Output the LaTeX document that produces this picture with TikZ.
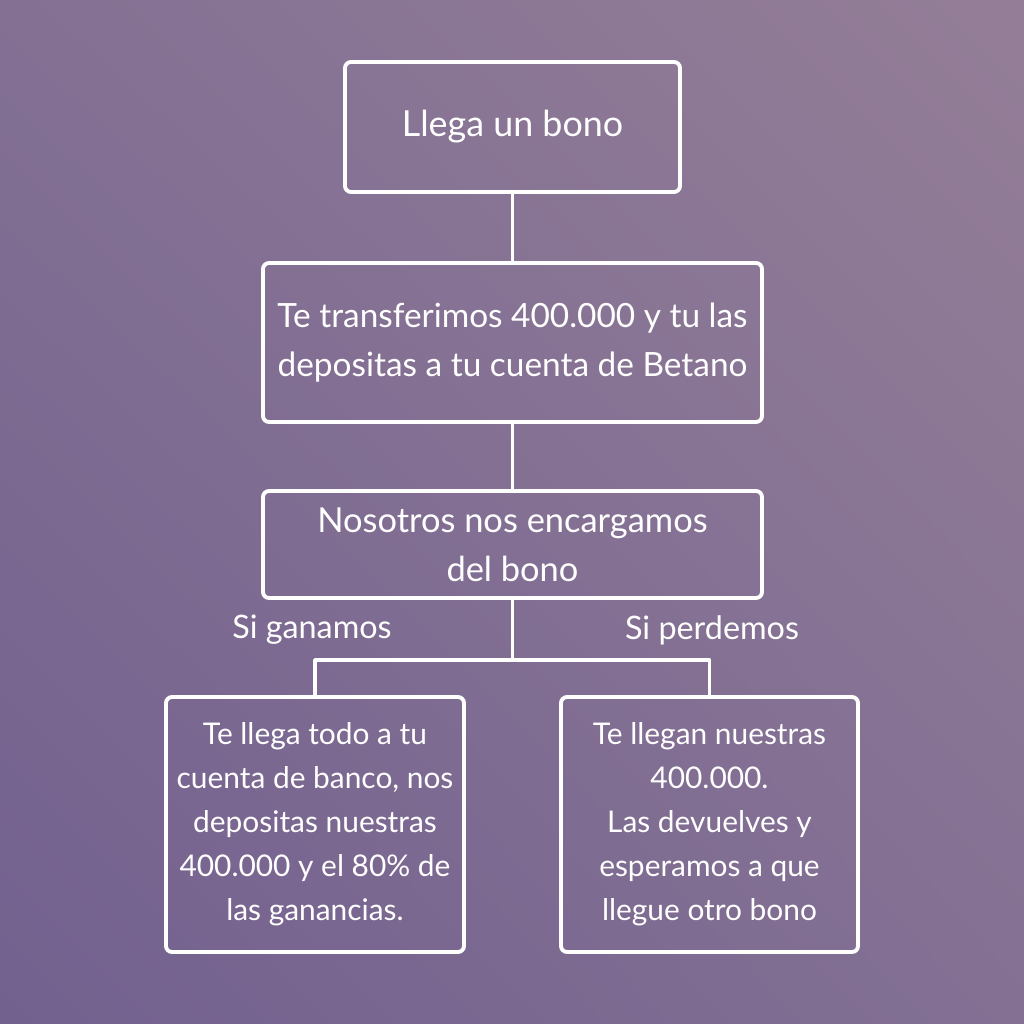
\documentclass[tikz,border=0pt]{standalone}
\usepackage{fontspec}
\setmainfont{Lato}
\usetikzlibrary{shadings}
\definecolor{fondoclaro}{HTML}{947E97}
\definecolor{fondomedio}{HTML}{837093}
\definecolor{fondooscuro}{HTML}{72608F}
\begin{document}
\begin{tikzpicture}[line cap=round,line join=round,x=0.1mm,y=-0.1mm,
		caja/.style={draw=white,line width=1.1pt,rounded corners=0.6mm,text=white,align=center,inner sep=0pt},
		grande/.style={font=\fontsize{9.5}{13.7}\selectfont},
		chica/.style={font=\fontsize{8.5}{12.5}\selectfont},
		rama/.style={draw=white,line width=1.1pt},
		etiqueta/.style={text=white,font=\fontsize{9.2}{11}\selectfont}]
				\shade[lower left=fondooscuro,upper right=fondoclaro,upper left=fondomedio,lower right=fondomedio] (0,1024) rectangle (1024,0);
				\useasboundingbox (0,0) rectangle (1024,1024);
				\node[caja,minimum width=33.5mm,minimum height=13mm,font=\fontsize{10.2}{13.7}\selectfont] (llega) at (512.5,127) {Llega un bono};
				\node[caja,grande,minimum width=49.9mm,minimum height=15.9mm] (transf) at (512.5,342.5) {Te transferimos 400.000 y tu las\\depositas a tu cuenta de Betano};
				\node[caja,minimum width=49.9mm,minimum height=10.7mm,font=\fontsize{9.8}{13.9}\selectfont] (encargo) at (512.5,544.5) {Nosotros nos encargamos\\del bono};
				\node[caja,chica,minimum width=29.8mm,minimum height=25.5mm] (gana) at (315,824.5) {Te llega todo a tu\\cuenta de banco, nos\\depositas nuestras\\400.000 y el 80\% de\\las ganancias.};
				\node[caja,chica,minimum width=29.7mm,minimum height=25.5mm] (pierde) at (709.5,824.5) {Te llegan nuestras\\400.000.\\Las devuelves y\\esperamos a que\\llegue otro bono};
				\coordinate (horquilla) at (512.5,660);
				\draw[rama] (llega) -- (transf);
				\draw[rama] (transf) -- (encargo);
				\draw[rama] (encargo) -- (horquilla);
				\draw[rama] (horquilla) -| (gana);
				\draw[rama] (horquilla) -| (pierde);
				\node[etiqueta] (siGana) at (312,630) {Si ganamos};
				\node[etiqueta] (siPierde) at (712,630) {Si perdemos};
			\end{tikzpicture}
\end{document}
